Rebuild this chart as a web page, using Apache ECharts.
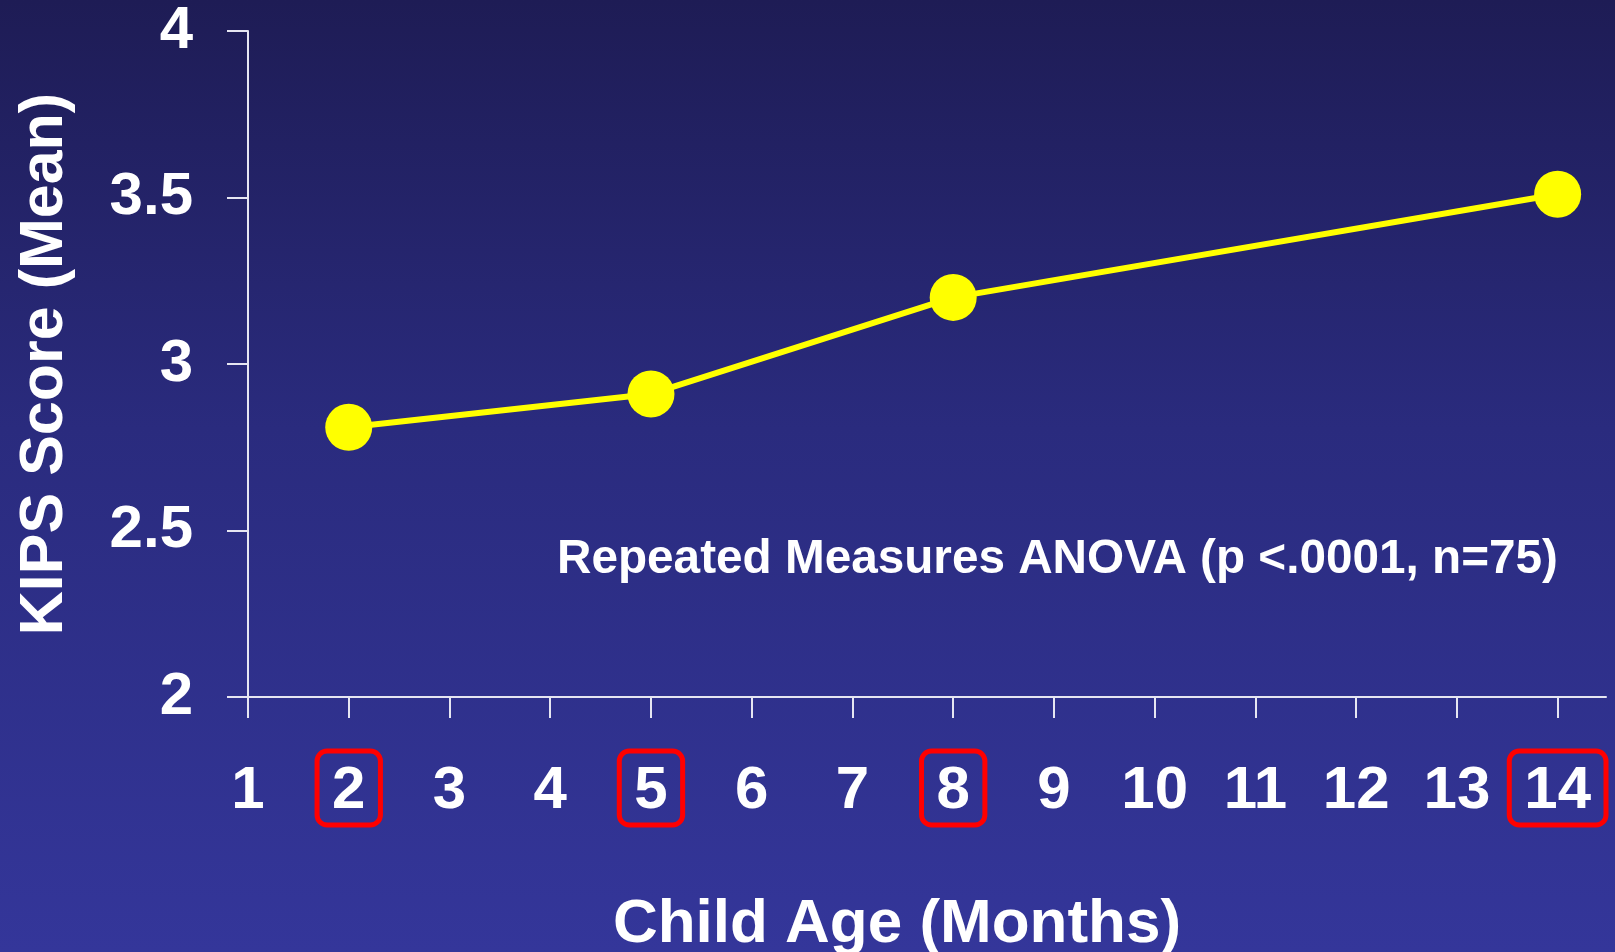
<!DOCTYPE html>
<html>
<head>
<meta charset="utf-8">
<title>KIPS Score by Child Age</title>
<script src="https://cdn.jsdelivr.net/npm/echarts@6/dist/echarts.min.js"></script>
<style>
  html, body { margin: 0; padding: 0; }
  #main {
    width: 1615px;
    height: 952px;
    background: linear-gradient(to bottom, #1e1c55 0%, #2a2b7e 45%, #34369a 100%);
  }
</style>
</head>
<body>
<div id="main"></div>
<script>
// measurement ages (months) and mean KIPS score at each
const ages = [2, 5, 8, 14]
const kipsMean = [2.81, 2.91, 3.2, 3.51]
// month ticks on the x axis, the measured ones get a red box
const monthTicks = [1, 2, 3, 4, 5, 6, 7, 8, 9, 10, 11, 12, 13, 14]
const boxedMonths = [2, 5, 8, 14]
const annotation = 'Repeated Measures ANOVA (p <.0001, n=75)'

const font = '"Liberation Sans", Arial, Helvetica, sans-serif'
const axisColor = '#e6e6f2'

const option = {
  backgroundColor: 'transparent',
  grid: {
    left: 248,
    right: 9,
    top: 31,
    bottom: 255,
    containLabel: false,
    outerBoundsMode: 'none'
  },
  xAxis: {
    type: 'value',
    min: 1,
    max: 14.48,
    name: 'Child Age (Months)',
    nameLocation: 'middle',
    nameGap: 197,
    nameTextStyle: {
      color: '#fff',
      fontFamily: font,
      fontWeight: 'bold',
      fontSize: 62,
      padding: [0, 60, 0, 0]
    },
    axisLine: { lineStyle: { color: axisColor, width: 2 } },
    axisTick: {
      customValues: monthTicks,
      length: 21,
      lineStyle: { color: axisColor, width: 2 }
    },
    axisLabel: {
      customValues: monthTicks,
      margin: 60,
      hideOverlap: false,
      showMinLabel: true,
      showMaxLabel: true,
      formatter: function (v) {
        return boxedMonths.indexOf(v) >= 0 ? '{b|' + v + '}' : '{n|' + v + '}'
      },
      rich: {
        // boxed month
        b: {
          color: '#fff',
          fontFamily: font,
          fontWeight: 'bold',
          fontSize: 60,
          lineHeight: 62,
          padding: [10, 15, 4, 15],
          borderColor: '#ff0000',
          borderWidth: 5,
          borderRadius: 10
        },
        // plain month, same height as the boxed one
        n: {
          color: '#fff',
          fontFamily: font,
          fontWeight: 'bold',
          fontSize: 60,
          lineHeight: 62,
          padding: [15, 0, 9, 0]
        }
      }
    },
    splitLine: { show: false }
  },
  yAxis: {
    type: 'value',
    min: 2,
    max: 4,
    interval: 0.5,
    name: 'KIPS Score (Mean)',
    nameLocation: 'middle',
    nameGap: 172,
    nameTextStyle: {
      color: '#fff',
      fontFamily: font,
      fontWeight: 'bold',
      fontSize: 61
    },
    axisLine: { show: true, lineStyle: { color: axisColor, width: 2 } },
    axisTick: {
      show: true,
      length: 21,
      lineStyle: { color: axisColor, width: 2 }
    },
    axisLabel: {
      color: '#fff',
      fontFamily: font,
      fontWeight: 'bold',
      fontSize: 60,
      margin: 55,
      padding: [10, 0, 0, 0]
    },
    splitLine: { show: false }
  },
  graphic: [
    {
      type: 'text',
      left: 557,
      top: 536,
      style: {
        text: annotation,
        fill: '#fff',
        font: 'bold 47.7px ' + font,
        verticalAlign: 'middle'
      }
    }
  ],
  series: [
    {
      type: 'line',
      data: ages.map(function (a, i) { return [a, kipsMean[i]] }),
      symbol: 'circle',
      symbolSize: 47,
      lineStyle: { color: '#ffff00', width: 6 },
      itemStyle: { color: '#ffff00' },
      z: 3
    }
  ]
}

const chart = echarts.init(document.getElementById('main'))
chart.setOption(option)
</script>
</body>
</html>
